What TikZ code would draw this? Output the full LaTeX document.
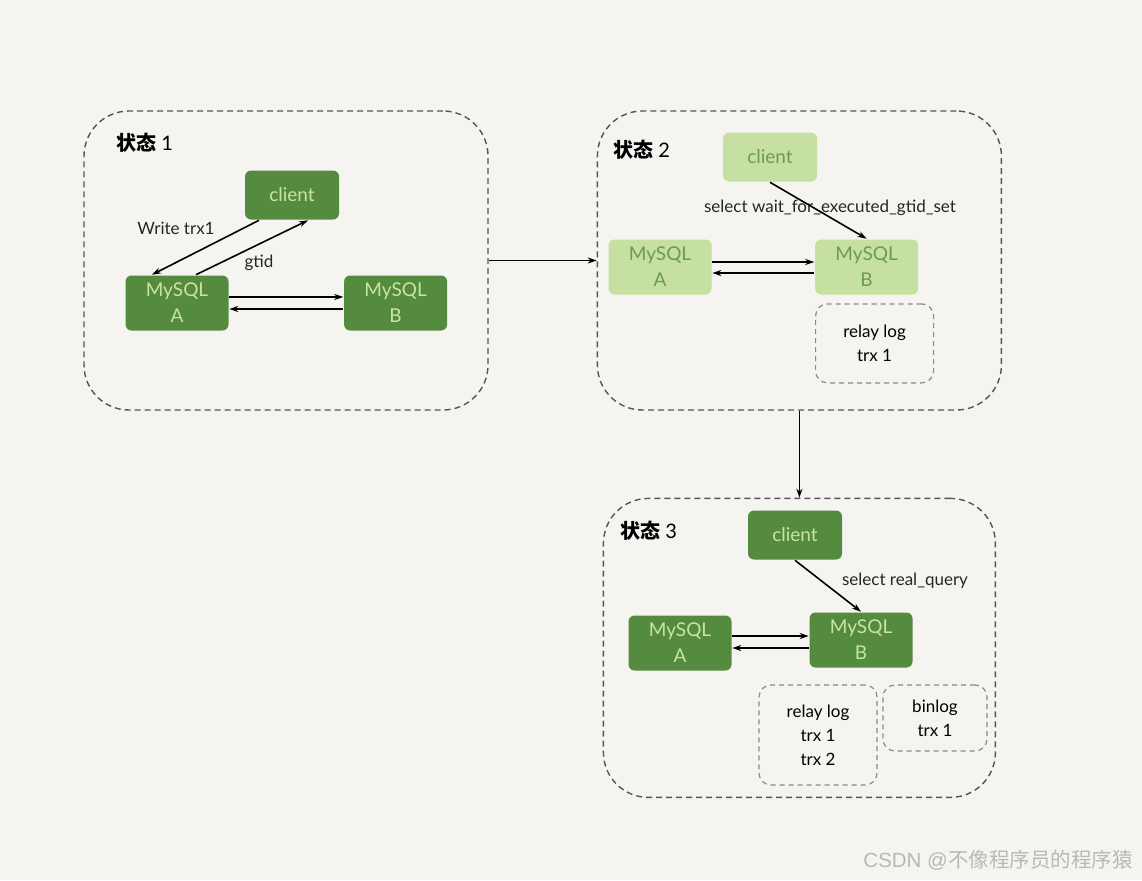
\documentclass[tikz,border=0pt]{standalone}
\usepackage{fontspec}
\setmainfont{Lato}
\newfontfamily\cjk{Noto Sans CJK SC}
\newfontfamily\wmfont{Liberation Sans}
\usepackage{tikz}
\usetikzlibrary{positioning, arrows.meta}
\usepackage{xcolor}
\definecolor{paper}{HTML}{F5F4F0}
\definecolor{darkgreen}{HTML}{558B3F}
\definecolor{lightgreen}{HTML}{C5E0A0}
\definecolor{palegreen}{HTML}{C8E4A4}
\definecolor{leafgreen}{HTML}{6C9C4C}
\definecolor{framegray}{HTML}{555555}
\definecolor{loggray}{HTML}{8A8A8A}

\tikzset{
    statebox/.style={draw=framegray, line width=1.4pt, dash pattern=on 6pt off 4pt,
        rounded corners=45pt, minimum width=404pt, minimum height=299pt},
    darknode/.style={fill=darkgreen, text=palegreen, rounded corners=6pt, align=center,
        inner sep=0pt, font=\fontsize{19}{26}\selectfont},
    lightnode/.style={fill=lightgreen, text=leafgreen, rounded corners=6pt, align=center,
        inner sep=0pt, font=\fontsize{19}{26}\selectfont},
    client/.style={minimum width=94pt, minimum height=49pt},
    mysql/.style={minimum width=103pt, minimum height=55pt},
    logbox/.style={draw=loggray, line width=1.2pt, dash pattern=on 5pt off 4pt,
        rounded corners=12pt, align=center, inner sep=0pt, font=\fontsize{17}{24}\selectfont},
    lbl/.style={inner sep=0pt, text=black!85, font=\fontsize{17}{18}\selectfont},
    title/.style={anchor=west, inner sep=0pt, font=\cjk\bfseries\fontsize{20}{22}\selectfont},
    wm/.style={inner sep=0pt, text=black!28, font=\wmfont\fontsize{20.5}{22}\selectfont},
}

\begin{document}
\begin{tikzpicture}[x=1pt, y=-1pt, line width=1.6pt, >={Stealth[length=9pt, width=6pt]}]
    \fill[paper] (0,0) rectangle (1142,880);
    \useasboundingbox (0,0) rectangle (1142,880);

    % 状态 1
    \node[statebox] (s1) at (286,260.5) {};
    \node[title] (t1) at (116,143) {状态 \normalfont 1};
    \node[darknode, client] (c1) at (292,195) {client};
    \node[darknode, mysql] (a1) at (177,303) {MySQL\\A};
    \node[darknode, mysql, right=114pt of a1] (b1) {MySQL\\B};
    \node[lbl] (w1) at (176,228) {Write trx1};
    \node[lbl] (g1) at (259,263) {gtid};
    \draw[->] ([xshift=-33pt]c1.south) -- ([xshift=-25pt]a1.north);
    \draw[->] ([xshift=19pt]a1.north) -- ([xshift=16pt]c1.south);
    \draw[->] ([yshift=6pt]a1.east) -- ([yshift=6pt]b1.west);
    \draw[->] ([yshift=-6pt]b1.west) -- ([yshift=-6pt]a1.east);

    % 状态 2
    \node[statebox, right=108pt of s1] (s2) {};
    \node[title] (t2) at (613,150) {状态 \normalfont 2};
    \node[lightnode, client] (c2) at (770,157) {client};
    \node[lightnode, mysql] (a2) at (660,267) {MySQL\\A};
    \node[lightnode, mysql, right=102pt of a2] (b2) {MySQL\\B};
    \node[lbl] (q2) at (830,208) {select wait\_for\_executed\_gtid\_set};
    \node[logbox, minimum width=118pt, minimum height=79pt, below=8pt of b2, xshift=8pt] (r2) {relay log\\trx 1};
    \draw[->] (c2.south) -- (b2.north);
    \draw[->] ([yshift=5pt]a2.east) -- ([yshift=5pt]a2.east -| b2.west);
    \draw[->] ([yshift=-6pt]a2.east -| b2.west) -- ([yshift=-6pt]a2.east);

    % 状态 3
    \node[statebox, minimum width=392pt, below=87pt of s2] (s3) {};
    \node[title] (t3) at (620,531) {状态 \normalfont 3};
    \node[darknode, client] (c3) at (795,535) {client};
    \node[darknode, mysql] (a3) at (680,643) {MySQL\\A};
    \node[darknode, mysql] (b3) at (861,640) {MySQL\\B};
    \node[lbl] (q3) at (905,581) {select real\_query};
    \node[logbox, minimum width=118pt, minimum height=100pt] (r3) at (818,735) {relay log\\trx 1\\trx 2};
    \node[logbox, minimum width=104pt, minimum height=66pt] (l3) at (935,718) {binlog\\trx 1};
    \draw[->] (c3.south) -- (b3.north);
    \draw[->] ([yshift=7pt]a3.east) -- ([yshift=7pt]a3.east -| b3.west);
    \draw[->] ([yshift=-5pt]a3.east -| b3.west) -- ([yshift=-5pt]a3.east);

    % 状态之间
    \draw[->] (s1) -- (s2);
    \draw[->] (s2) -- (s3);

    \node[wm] (mark) at (998,860) {CSDN @{\cjk 不像程序员的程序猿}};
\end{tikzpicture}
\end{document}
